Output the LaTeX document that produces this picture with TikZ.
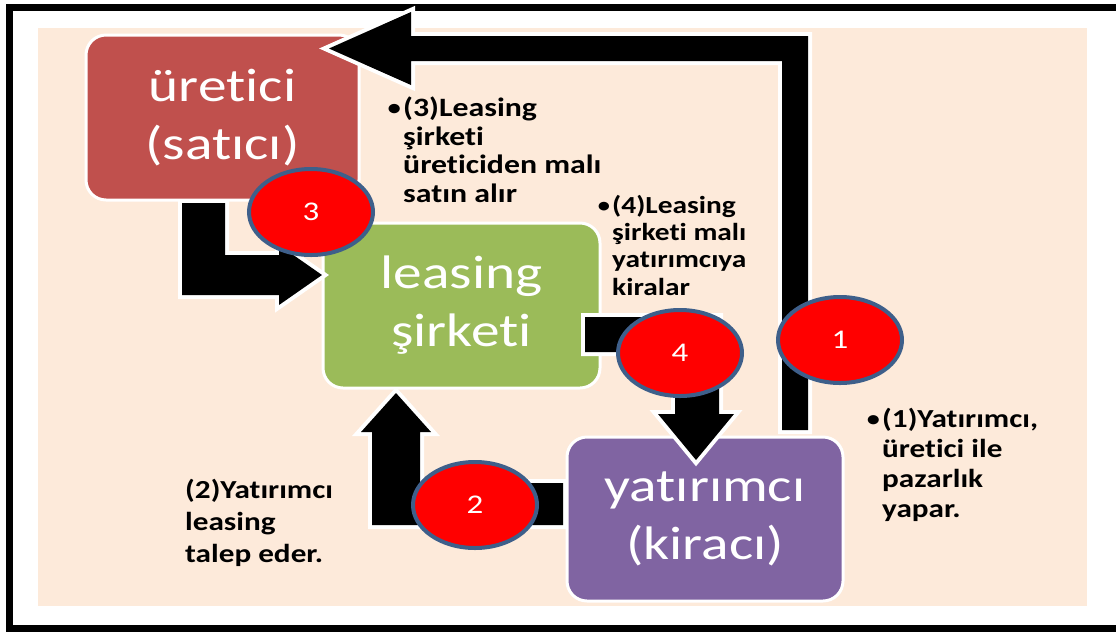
\documentclass[tikz,border=0pt]{standalone}
\usepackage{fontspec}
\setmainfont{Carlito}[Ligatures=NoCommon]
\newfontfamily\boxfont{Carlito}[FakeStretch=1.22, Ligatures=NoCommon]
\newfontfamily\notefont{Carlito}[FakeStretch=1.2, Ligatures=NoCommon]
\usetikzlibrary{shapes.geometric}
\definecolor{peach}{HTML}{FDEADA}
\definecolor{boxred}{HTML}{C0504D}
\definecolor{boxgreen}{HTML}{9BBB59}
\definecolor{boxpurple}{HTML}{8064A2}
\definecolor{badgered}{HTML}{FF0000}
\definecolor{badgeline}{HTML}{3E5F8A}
\tikzset{
  box/.style={draw=white, line width=3pt, rounded corners=20pt, inner sep=0pt,
    align=center, text=white, font=\boxfont\fontsize{47}{58}\selectfont},
  badge/.style={ellipse, draw=badgeline, line width=4pt, fill=badgered,
    minimum width=124pt, minimum height=86pt, inner sep=0pt, text=white,
    font=\boxfont\fontsize{27}{30}\selectfont},
  note/.style 2 args={anchor=base west, align=left, inner sep=0pt,
    font=\notefont\bfseries\fontsize{#1}{#2}\selectfont},
  blockarrow/.style={fill=black, preaction={draw=white, line width=8pt}},
}
\newcommand\notebullet{\llap{\mdseries•\kern1pt}}
\begin{document}
\begin{tikzpicture}[x=1pt, y=-1pt]
\useasboundingbox (0,0) rectangle (1116,633);
\fill[white] (0,0) rectangle (1116,633);
% peach background
\fill[peach] (38,28) rectangle (1087,606);
% outer frame
\draw[line width=7pt] (1125,7.5) -- (9,7.5) -- (9,628.5) -- (1125,628.5);
% boxes
\node[box, fill=boxred, minimum width=273pt, minimum height=165pt] (uret) at (222.5,117.5) {üretici\\(satıcı)};
\node[box, fill=boxgreen, minimum width=277pt, minimum height=165pt] (leas) at (461.5,305.5) {leasing\\şirketi};
\node[box, fill=boxpurple, minimum width=276pt, minimum height=164pt] (yat) at (705,519) {yatırımcı\\(kiracı)};
% block arrows
\path[blockarrow] (782,430) -- (808,430) -- (808,36) -- (411,36) -- (411,12) -- (329,48.5) -- (411,85) -- (411,61) -- (782,61) -- cycle;
\path[blockarrow] (182,203) -- (225,203) -- (225,255) -- (279,255) -- (279,245) -- (322,275) -- (279,305) -- (279,295) -- (182,295) -- cycle;
\path[blockarrow] (585,317) -- (719,317) -- (719,414) -- (734,414) -- (696,460) -- (658,414) -- (675,414) -- (675,352) -- (585,352) -- cycle;
\path[blockarrow] (563,483) -- (563,525) -- (372,525) -- (372,432) -- (361,432) -- (396,393) -- (431,432) -- (420,432) -- (420,483) -- cycle;
% badges
\node[badge] (b3) at (311,212) {3};
\node[badge] (b4) at (680,353) {4};
\node[badge] (b1) at (840,340) {1};
\node[badge] (b2) at (475,505) {2};
% notes (anchor = baseline of the last line)
\node[note={26.5}{28.5}] (n3) at (403,202) {\notebullet(3)Leasing\\şirketi\\üreticiden malı\\satın alır};
\node[note={24.5}{27.3}] (n4) at (612,295) {\notebullet(4)Leasing\\şirketi malı\\yatırımcıya\\kiralar};
\node[note={26}{29.7}] (n1) at (882,517) {\notebullet(1)Yatırımcı,\\üretici ile\\pazarlık\\yapar.};
\node[note={26}{32}] (n2) at (185,562) {(2)Yatırımcı\\leasing\\talep eder.};
\end{tikzpicture}
\end{document}
